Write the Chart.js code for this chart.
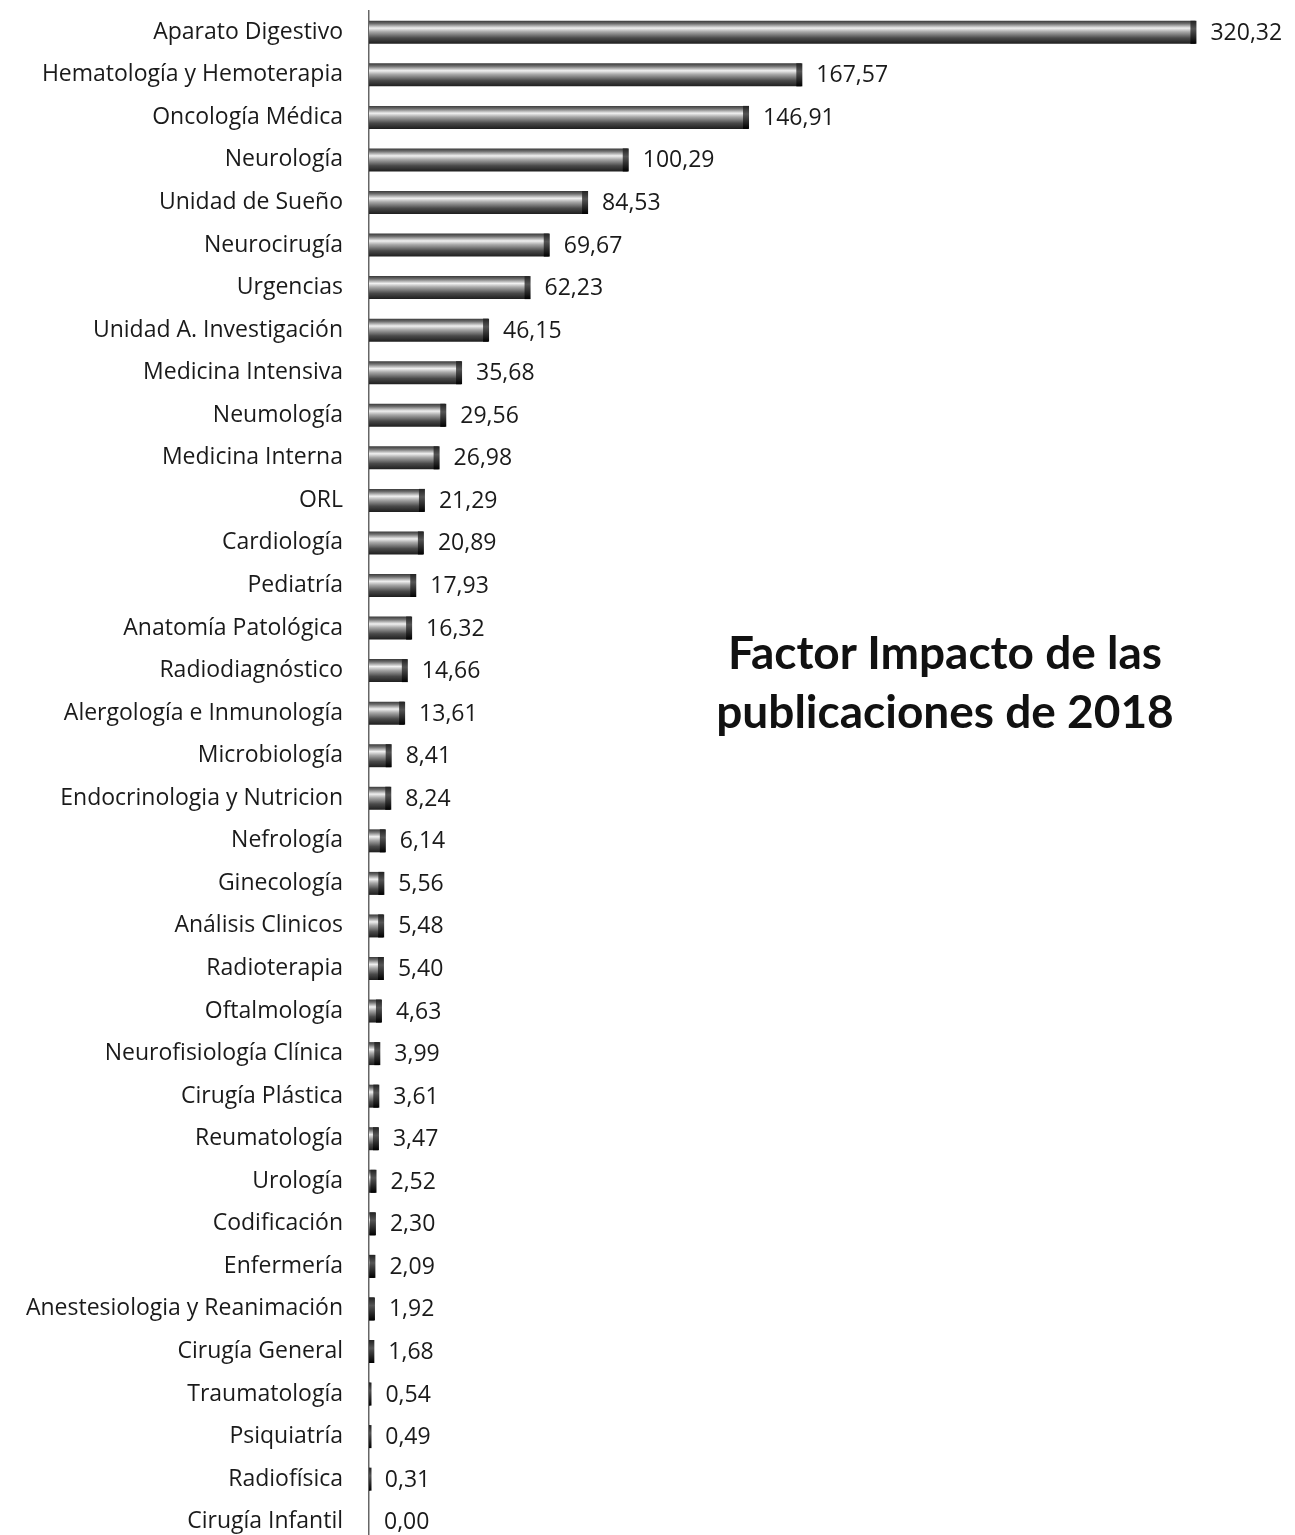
<!DOCTYPE html>
<html>
<head>
<meta charset="utf-8">
<script src="https://cdn.jsdelivr.net/npm/chart.js@4/dist/chart.umd.min.js"></script>
<style>
  html, body { margin: 0; padding: 0; background: #fff; overflow: hidden; }
  #wrap { position: relative; width: 1295px; height: 1545px; }
  #titulo {
    position: absolute; left: 640px; width: 610px; top: 622px;
    text-align: center; font-family: Lato, "Open Sans", sans-serif;
    font-weight: bold; font-size: 46px; line-height: 59px; color: #111;
  }
</style>
</head>
<body>
<div id="wrap">
  <canvas id="grafico" width="1295" height="1545"></canvas>
  <div id="titulo">Factor Impacto de las<br>publicaciones de 2018</div>
</div>
<script>
const servicios = [
  "Aparato Digestivo", "Hematología y Hemoterapia", "Oncología Médica", "Neurología",
  "Unidad de Sueño", "Neurocirugía", "Urgencias", "Unidad A. Investigación",
  "Medicina Intensiva", "Neumología", "Medicina Interna", "ORL", "Cardiología",
  "Pediatría", "Anatomía Patológica", "Radiodiagnóstico", "Alergología e Inmunología",
  "Microbiología", "Endocrinologia y Nutricion", "Nefrología", "Ginecología",
  "Análisis Clinicos", "Radioterapia", "Oftalmología", "Neurofisiología Clínica",
  "Cirugía Plástica", "Reumatología", "Urología", "Codificación", "Enfermería",
  "Anestesiologia y Reanimación", "Cirugía General", "Traumatología", "Psiquiatría",
  "Radiofísica", "Cirugía Infantil"
];
const factorImpacto = [
  320.32, 167.57, 146.91, 100.29, 84.53, 69.67, 62.23, 46.15, 35.68, 29.56, 26.98,
  21.29, 20.89, 17.93, 16.32, 14.66, 13.61, 8.41, 8.24, 6.14, 5.56, 5.48, 5.40,
  4.63, 3.99, 3.61, 3.47, 2.52, 2.30, 2.09, 1.92, 1.68, 0.54, 0.49, 0.31, 0.00
];

const fuente = "'Open Sans', Lato, sans-serif";
const mitad = 11.5;

// degradado tipo cilindro para cada barra
function cilindro(ctx) {
  const chart = ctx.chart;
  const y = chart.scales.y;
  if (!y || ctx.dataIndex === undefined) return "#666";
  const c = y.getPixelForValue(ctx.dataIndex);
  if (!isFinite(c)) return "#666";
  const g = chart.ctx.createLinearGradient(0, c - mitad, 0, c + mitad);
  g.addColorStop(0, "#3a3a3a");
  g.addColorStop(0.12, "#6d6d6d");
  g.addColorStop(0.32, "#f0f0f0");
  g.addColorStop(0.48, "#a8a8a8");
  g.addColorStop(0.75, "#4a4a4a");
  g.addColorStop(1, "#1e1e1e");
  return g;
}

const extremos = {
  id: "extremos",
  afterDatasetsDraw(chart) {
    const ctx = chart.ctx;
    const meta = chart.getDatasetMeta(0);
    const base = chart.scales.x.getPixelForValue(0);
    ctx.save();
    meta.data.forEach((bar, i) => {
      const v = factorImpacto[i];
      if (v > 0) {
        const x0 = Math.max(base, bar.x - 5);
        const g = ctx.createLinearGradient(0, bar.y - mitad, 0, bar.y + mitad);
        g.addColorStop(0, "#222");
        g.addColorStop(0.35, "#555");
        g.addColorStop(1, "#000");
        ctx.fillStyle = g;
        ctx.fillRect(x0, bar.y - mitad, Math.max(bar.x + 1 - x0, 2.5), mitad * 2);
      }
      ctx.fillStyle = "#1a1a1a";
      ctx.font = "23px " + fuente;
      ctx.textBaseline = "middle";
      ctx.textAlign = "left";
      ctx.fillText(v.toFixed(2).replace(".", ","), bar.x + 15, bar.y + 1);
    });
    ctx.restore();
  }
};

new Chart(document.getElementById("grafico"), {
  type: "bar",
  data: {
    labels: servicios,
    datasets: [{
      data: factorImpacto,
      backgroundColor: cilindro,
      borderWidth: 0,
      barPercentage: 0.54,
      categoryPercentage: 1
    }]
  },
  options: {
    indexAxis: "y",
    responsive: false,
    animation: false,
    layout: { autoPadding: false, padding: { top: 11, bottom: 2, left: 0, right: 23 } },
    plugins: { legend: { display: false }, tooltip: { enabled: false } },
    scales: {
      x: { display: false, min: 0, max: 350 },
      y: {
        grid: { display: false, drawTicks: false },
        border: { display: true, color: "#666", width: 1.5 },
        ticks: {
          color: "#1a1a1a",
          font: { family: fuente, size: 23 },
          padding: 26
        },
        afterFit(scale) {
          scale.width = 369;
          scale.paddingTop = 0;
          scale.paddingBottom = 0;
        }
      }
    }
  },
  plugins: [extremos]
});
</script>
</body>
</html>
